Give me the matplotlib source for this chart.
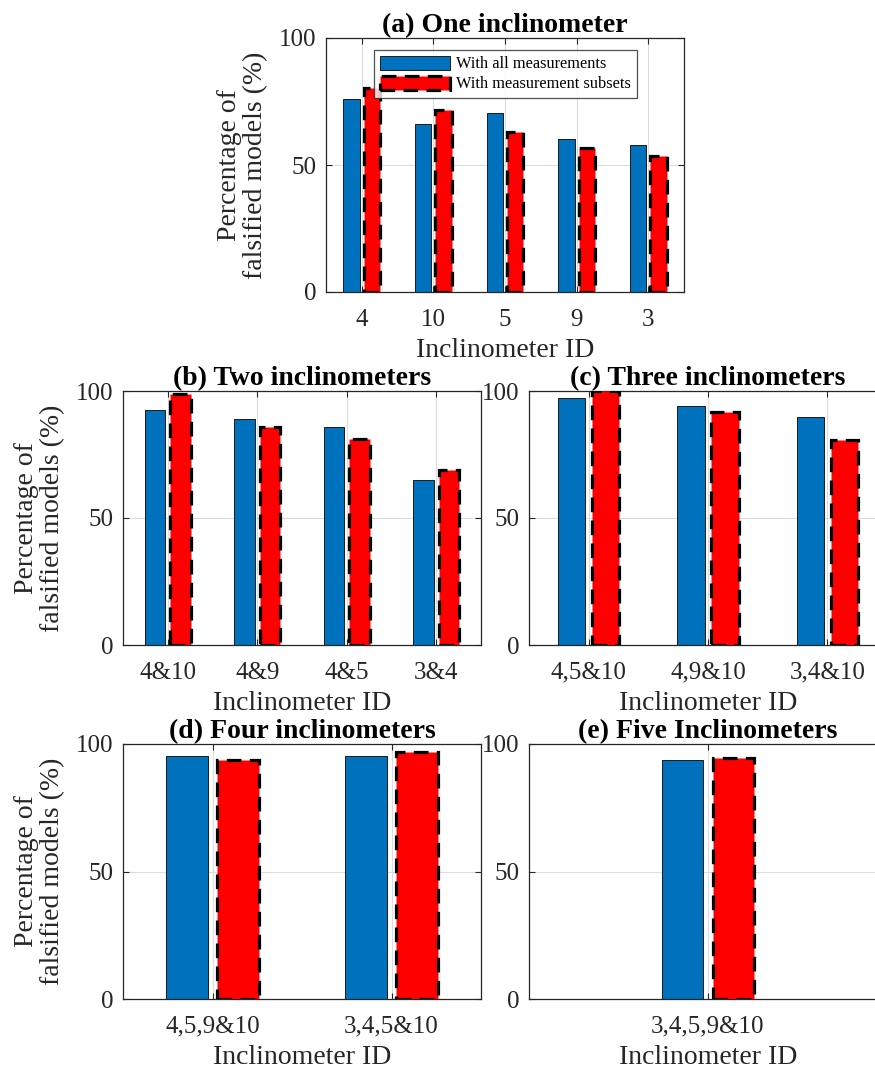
import numpy as np
import matplotlib
matplotlib.use("Agg")
import matplotlib.pyplot as plt
from matplotlib.patches import Patch

plt.rcParams["font.family"] = "serif"
plt.rcParams["font.serif"] = ["Liberation Serif", "DejaVu Serif"]

# ---- data -------------------------------------------------------------
labels_a = ["4", "10", "5", "9", "3"]
all_a = [75.9, 66.2, 70.3, 60.2, 57.7]
sub_a = [80.5, 71.5, 62.9, 56.8, 53.4]

labels_b = ["4&10", "4&9", "4&5", "3&4"]
all_b = [92.5, 88.8, 86.0, 64.8]
sub_b = [98.8, 86.0, 81.1, 68.9]

labels_c = ["4,5&10", "4,9&10", "3,4&10"]
all_c = [97.2, 94.0, 89.9]
sub_c = [100.0, 91.8, 80.7]

labels_d = ["4,5,9&10", "3,4,5&10"]
all_d = [95.3, 95.1]
sub_d = [93.6, 96.9]

labels_e = ["3,4,5,9&10"]
all_e = [93.6]
sub_e = [94.6]

titles = ["(a) One inclinometer", "(b) Two inclinometers",
          "(c) Three inclinometers", "(d) Four inclinometers",
          "(e) Five Inclinometers"]
series_names = ["With all measurements", "With measurement subsets"]

BLUE = "#0072BD"
RED = "#FF0000"
AXC = "#262626"
DASH = (0, (4.6, 2.6))

W, H = 875, 1068
fig = plt.figure(figsize=(W / 100, H / 100), dpi=100)


def px_axes(left, top, right, bottom):
    return fig.add_axes([left / W, 1 - bottom / H, (right - left) / W,
                         (bottom - top) / H])


def draw(ax, labels, v_all, v_sub, title, xlim, ylabel=True):
    x = np.arange(1, len(labels) + 1)
    ax.set_axisbelow(True)
    ax.bar(x - 0.142, v_all, width=0.23, color=BLUE, edgecolor="#1a1a1a",
           linewidth=0.7, zorder=2)
    ax.bar(x + 0.142, v_sub, width=0.23, color=RED, edgecolor="black",
           linewidth=2.3, linestyle=DASH, zorder=3)
    ax.set_xlim(*xlim)
    ax.set_ylim(0, 100)
    ax.set_xticks(x)
    ax.set_xticklabels(labels)
    ax.set_yticks([0, 50, 100])
    ax.grid(True, color="#dcdcdc", linewidth=0.8)
    ax.tick_params(direction="in", length=4, width=0.8, colors=AXC,
                   labelsize=18, top=True, right=True)
    ax.tick_params(axis="y", pad=7)
    ax.tick_params(axis="x", pad=12)
    for s in ax.spines.values():
        s.set_color(AXC)
        s.set_linewidth(0.9)
    ax.set_xlabel("Inclinometer ID", fontsize=20, color=AXC, labelpad=5)
    if ylabel:
        ax.set_ylabel("Percentage of\nfalsified models (%)", fontsize=20,
                      color=AXC, linespacing=1.05, labelpad=8)
    ax.set_title(title, fontsize=20, fontweight="bold", pad=4)


ax_a = px_axes(326, 38, 684, 292)
draw(ax_a, labels_a, all_a, sub_a, titles[0], (0.5, 5.5))

ax_b = px_axes(123, 391, 481, 645)
draw(ax_b, labels_b, all_b, sub_b, titles[1], (0.5, 4.5))

ax_c = px_axes(529, 391, 887, 645)
draw(ax_c, labels_c, all_c, sub_c, titles[2], (0.5, 3.5), ylabel=False)

ax_d = px_axes(123, 744, 481, 999)
draw(ax_d, labels_d, all_d, sub_d, titles[3], (0.5, 2.5))

ax_e = px_axes(529, 744, 887, 999)
draw(ax_e, labels_e, all_e, sub_e, titles[4], (0.0, 2.0), ylabel=False)

handles = [
    Patch(facecolor=BLUE, edgecolor="#1a1a1a", linewidth=0.7),
    Patch(facecolor=RED, edgecolor="black", linewidth=2.3, linestyle=DASH),
]
leg = ax_a.legend(handles, series_names, loc="upper left",
                  bbox_to_anchor=(0.134, 0.953), borderaxespad=0,
                  fontsize=11.8, frameon=True, fancybox=False,
                  handlelength=4.3, handleheight=0.95, handletextpad=0.35,
                  labelspacing=0.2, borderpad=0.35)
leg.get_frame().set_edgecolor(AXC)
leg.get_frame().set_linewidth(0.9)

fig.savefig("out.png", dpi=100)
